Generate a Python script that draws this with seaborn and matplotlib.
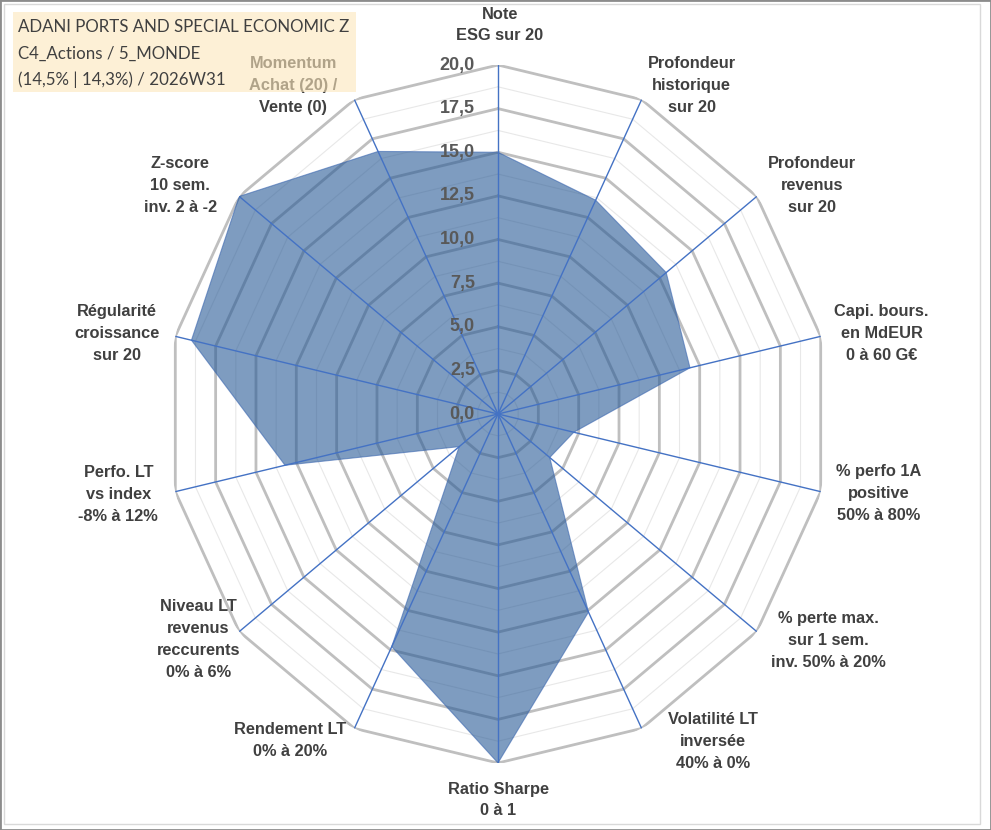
import numpy as np
import matplotlib
matplotlib.use("Agg")
import matplotlib.pyplot as plt
from matplotlib.patches import Rectangle
import seaborn as sns

# ==========================================
# DONNEES DU RADAR
# ==========================================
criteres = [
    "Note\nESG sur 20",
    "Profondeur\nhistorique\nsur 20",
    "Profondeur\nrevenus\nsur 20",
    "Capi. bours.\nen MdEUR\n0 à 60 G€",
    "% perfo 1A\npositive\n50% à 80%",
    "% perte max.\nsur 1 sem.\ninv. 50% à 20%",
    "Volatilité LT\ninversée\n40% à 0%",
    "Ratio Sharpe\n0 à 1",
    "Rendement LT\n0% à 20%",
    "Niveau LT\nrevenus\nreccurents\n0% à 6%",
    "Perfo. LT\nvs index\n-8% à 12%",
    "Régularité\ncroissance\nsur 20",
    "Z-score\n10 sem.\ninv. 2 à -2",
    "Momentum\nAchat (20) /\nVente (0)",
]
scores = [15.0, 13.6, 13.0, 11.9, 4.7, 4.0, 12.6, 20.0, 14.8, 3.0, 13.2, 19.0, 20.0, 16.7]
graduations = [0.0, 2.5, 5.0, 7.5, 10.0, 12.5, 15.0, 17.5, 20.0]
titre_lignes = [
    "ADANI PORTS AND SPECIAL ECONOMIC Z",
    "C4_Actions / 5_MONDE",
    "(14,5% | 14,3%) / 2026W31",
]

# décalage (pixels) des étiquettes par rapport au sommet de chaque axe
decalages = [(2, 40), (50, 14), (55, 11), (61, 3), (58, -2), (72, -9), (71, -13),
             (0, -37), (-64, -12), (-41, -8), (-57, -3), (-58, 3), (-59, 11), (-61, 14)]

sns.set_theme(style="white")
plt.rcParams["font.family"] = ["Liberation Sans", "DejaVu Sans"]

n = len(criteres)
angles = np.linspace(0, 2 * np.pi, n, endpoint=False)
angles_fermes = np.append(angles, angles[0])
scores_fermes = scores + scores[:1]
rmax = graduations[-1]

fig = plt.figure(figsize=(9.91, 8.30), dpi=100)
fig.patch.set_facecolor("white")
ax = fig.add_axes([167 / 991, 67 / 830, 662 / 991, 698 / 830], projection="polar")
ax.set_aspect("auto")
ax.set_theta_zero_location("N")
ax.set_theta_direction(-1)
ax.set_ylim(0, rmax)
ax.set_xticks([])
ax.set_yticks([])
ax.grid(False)
ax.spines["polar"].set_visible(False)
ax.set_facecolor("white")

# grille polygonale (majeure + mineure)
for g in graduations[1:]:
    ax.plot(angles_fermes, [g - 1.25] * (n + 1), color="#E8E8E8", lw=0.8, zorder=0.6)
    ax.plot(angles_fermes, [g] * (n + 1), color="#BFBFBF", lw=2.0, zorder=0.8)

# surface des scores
ax.fill(angles_fermes, scores_fermes, facecolor="#285A96", alpha=0.6,
        edgecolor="#3A66B0", lw=0.8, zorder=1)

# rayons
for a in angles:
    ax.plot([a, a], [0, rmax], color="#4472C4", lw=1.0, zorder=3)

# graduations de l'axe
for g in graduations:
    ax.annotate(f"{g:.1f}".replace(".", ","), xy=(0, g), xytext=(-23, 0),
                textcoords="offset pixels", ha="right", va="center",
                fontsize=13, fontweight="bold", color="#595959", zorder=4)

# étiquettes des critères
for a, lab, (dx, dy) in zip(angles, criteres, decalages):
    ax.annotate(lab, xy=(a, rmax), xytext=(dx, dy), textcoords="offset pixels",
                ha="center", va="center", multialignment="center",
                fontsize=11.8, fontweight="bold", color="#404040",
                linespacing=1.58, annotation_clip=False)

# cartouche titre
fig.add_artist(Rectangle((13 / 991, 1 - 92 / 830), 343 / 991, 80 / 830,
                         transform=fig.transFigure, facecolor=(0.988, 0.902, 0.733),
                         edgecolor="none", alpha=0.6, zorder=5))
for i, ligne in enumerate(titre_lignes):
    fig.text(18 / 991, 1 - (27 + 26.5 * i) / 830, ligne, ha="left", va="center",
             fontsize=12.2, color="#404040", family=["Lato", "DejaVu Sans"], zorder=6)

# cadres
fig.add_artist(Rectangle((4 / 991, 6 / 830), 976 / 991, 820 / 830, transform=fig.transFigure,
                         fill=False, edgecolor="#D9D9D9", lw=1, zorder=7))
fig.add_artist(Rectangle((0, 0), 1, 1, transform=fig.transFigure,
                         fill=False, edgecolor="#8C8C8C", lw=2, zorder=7))

fig.savefig("out.png", dpi=100)
plt.close(fig)
